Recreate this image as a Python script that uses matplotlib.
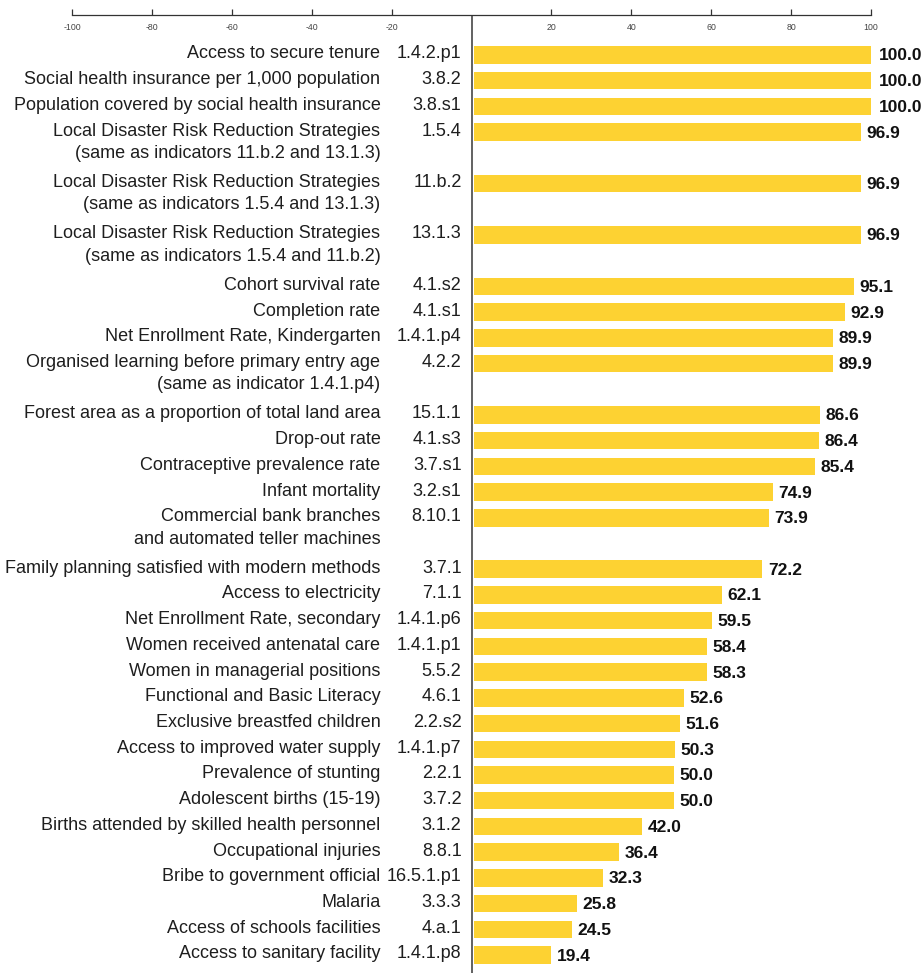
import matplotlib.pyplot as plt
import numpy as np

# indicator names (multi-line where the original wraps)
names = [
    "Access to secure tenure",
    "Social health insurance per 1,000 population",
    "Population covered by social health insurance",
    "Local Disaster Risk Reduction Strategies\n(same as indicators 11.b.2 and 13.1.3)",
    "Local Disaster Risk Reduction Strategies\n(same as indicators 1.5.4 and 13.1.3)",
    "Local Disaster Risk Reduction Strategies\n(same as indicators 1.5.4 and 11.b.2)",
    "Cohort survival rate",
    "Completion rate",
    "Net Enrollment Rate, Kindergarten",
    "Organised learning before primary entry age\n(same as indicator 1.4.1.p4)",
    "Forest area as a proportion of total land area",
    "Drop-out rate",
    "Contraceptive prevalence rate",
    "Infant mortality",
    "Commercial bank branches\nand automated teller machines",
    "Family planning satisfied with modern methods",
    "Access to electricity",
    "Net Enrollment Rate, secondary",
    "Women received antenatal care",
    "Women in managerial positions",
    "Functional and Basic Literacy",
    "Exclusive breastfed children",
    "Access to improved water supply",
    "Prevalence of stunting",
    "Adolescent births (15-19)",
    "Births attended by skilled health personnel",
    "Occupational injuries",
    "Bribe to government official",
    "Malaria",
    "Access of schools facilities",
    "Access to sanitary facility",
]
codes = [
    "1.4.2.p1", "3.8.2", "3.8.s1", "1.5.4", "11.b.2", "13.1.3", "4.1.s2",
    "4.1.s1", "1.4.1.p4", "4.2.2", "15.1.1", "4.1.s3", "3.7.s1", "3.2.s1",
    "8.10.1", "3.7.1", "7.1.1", "1.4.1.p6", "1.4.1.p1", "5.5.2", "4.6.1",
    "2.2.s2", "1.4.1.p7", "2.2.1", "3.7.2", "3.1.2", "8.8.1", "16.5.1.p1",
    "3.3.3", "4.a.1", "1.4.1.p8",
]
values = [
    100.0, 100.0, 100.0, 96.9, 96.9, 96.9, 95.1, 92.9, 89.9, 89.9,
    86.6, 86.4, 85.4, 74.9, 73.9, 72.2, 62.1, 59.5, 58.4, 58.3,
    52.6, 51.6, 50.3, 50.0, 50.0, 42.0, 36.4, 32.3, 25.8, 24.5, 19.4,
]
ticks = [-100, -80, -60, -40, -20, 20, 40, 60, 80, 100]

# each label line takes one row slot
n_lines = [n.count("\n") + 1 for n in names]
ypos = np.concatenate([[0], np.cumsum(n_lines)[:-1]])

label_font = ['Liberation Sans Narrow', 'Liberation Sans', 'DejaVu Sans']

fig = plt.figure(figsize=(9.24, 9.73), dpi=100)
ax = fig.add_axes([72 / 924, 0, (871 - 72) / 924, 1 - 15 / 973])

ax.barh(ypos, values, height=0.68, color='#FDD232', left=0.6)
ax.axvline(0, color='#555555', lw=1.3)

ax.set_xlim(-100, 100)
ax.set_ylim(ypos[-1] + 0.7, -1.55)

for s in ['top', 'left', 'right']:
    ax.spines[s].set_visible(False)
ax.spines['bottom'].set_position(('axes', 1.0))
ax.spines['bottom'].set_color('#333333')
ax.spines['bottom'].set_linewidth(0.9)
ax.set_xticks(ticks)
ax.set_xticklabels([str(t) for t in ticks], family=label_font, fontsize=6.3,
                   color='#444444')
ax.tick_params(axis='x', direction='in', length=4, width=0.9, pad=6,
               color='#333333')
ax.set_yticks([])

for y, name, code, v in zip(ypos, names, codes, values):
    ax.text(-22.8, y - 0.37, name, ha='right', va='top', family=label_font,
            fontsize=13, color='#1e1e1e', linespacing=1.42)
    ax.text(-2.5, y - 0.37, code, ha='right', va='top', family=label_font,
            fontsize=13, color='#1e1e1e')
    ax.text(v + 2.0, y + 0.04, f"{v:.1f}", ha='left', va='center',
            family=label_font, fontsize=12.5, fontweight='bold',
            color='#111111')

fig.savefig("out.png", dpi=100)
